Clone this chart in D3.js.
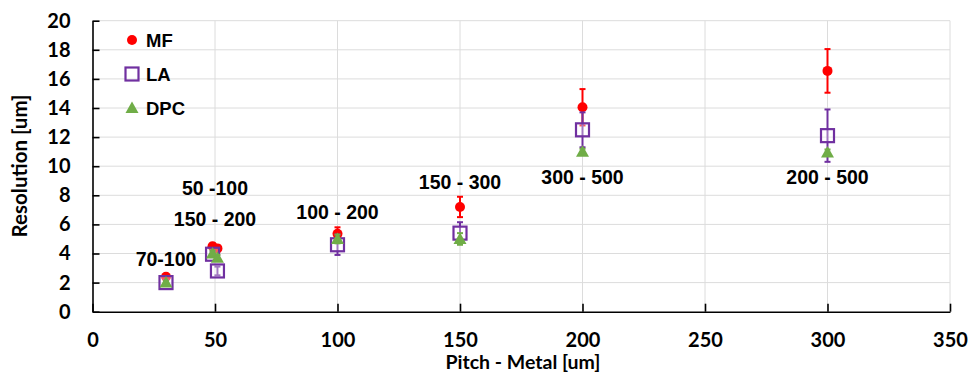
<!DOCTYPE html>
<html>
<head>
<meta charset="utf-8">
<script src="https://cdn.jsdelivr.net/npm/d3@7"></script>
<style>
  body { margin: 0; background: #fff; }
  svg { display: block; }
</style>
</head>
<body>
<div id="chart"></div>
<script>
// data
var pitch = [30, 49, 51, 100, 150, 200, 300]
var mfVals = [2.4, 4.5, 4.35, 5.35, 7.2, 14.05, 16.55]
var mfErr = [0.2, 0.2, 0.2, 0.45, 0.7, 1.25, 1.5]
var laVals = [2.0, 3.95, 2.8, 4.6, 5.4, 12.5, 12.1]
var laErr = [0.15, 0.2, 0.3, 0.7, 0.75, 1.2, 1.8]
var dpcVals = [2.0, 4.0, 3.7, 5.0, 5.0, 11.0, 10.95]
var dpcErr = [0.1, 0.2, 0.2, 0.3, 0.4, 0.2, 0.2]
var metalLabels = ["70-100", "50 -100", "150 - 200", "100 - 200", "150 - 300", "300 - 500", "200 - 500"]
var xTicks = [0, 50, 100, 150, 200, 250, 300, 350]
var yTicks = [0, 2, 4, 6, 8, 10, 12, 14, 16, 18, 20]

// where the range labels sit (data units)
var labelX = [30, 50, 50, 100, 150, 200, 300]
var labelY = [3.15, 8.05, 5.9, 6.4, 8.45, 8.75, 8.75]

var width = 969
height = 376

var svg = d3.select("#chart")
    .append("svg")
    .attr("width", width)
    .attr("height", height)

var x = d3.scaleLinear().domain([0, 350]).range([92.5, 950])
var y = d3.scaleLinear().domain([0, 20]).range([311.7, 20.7])

var tickFont = "Lato, 'Open Sans', sans-serif"
var labFont = "'Liberation Sans', Arial, sans-serif"

// grid
svg.append("g").selectAll("line")
    .data(yTicks.slice(1))
    .enter().append("line")
    .attr("x1", x(0)).attr("x2", x(350))
    .attr("y1", function(d){ return y(d) }).attr("y2", function(d){ return y(d) })
    .attr("stroke", "#dcdcdc").attr("stroke-width", 1)

svg.append("g").selectAll("line")
    .data(xTicks.slice(1))
    .enter().append("line")
    .attr("x1", function(d){ return x(d) }).attr("x2", function(d){ return x(d) })
    .attr("y1", y(0)).attr("y2", y(20))
    .attr("stroke", "#dcdcdc").attr("stroke-width", 1)

// axes, ticks point inward
var xAxis = svg.append("g")
    .attr("transform", "translate(0," + y(0) + ")")
    .call(d3.axisBottom(x).tickValues(xTicks).tickSizeInner(-8).tickSizeOuter(0))
var yAxis = svg.append("g")
    .attr("transform", "translate(" + x(0) + ",0)")
    .call(d3.axisLeft(y).tickValues(yTicks).tickSizeInner(-7).tickSizeOuter(0))

;[xAxis, yAxis].forEach(function(ax){
    ax.select(".domain").attr("stroke", "#000").attr("stroke-width", 1.6)
    ax.selectAll(".tick line").attr("stroke", "#000").attr("stroke-width", 1.6)
    ax.selectAll("text")
        .attr("fill", "#000")
        .style("font-family", tickFont)
        .style("font-weight", "bold")
        .style("font-size", "20px")
})
xAxis.selectAll(".tick text").attr("dy", null).attr("y", 35.5)
yAxis.selectAll(".tick text").attr("x", -22)

// axis titles
svg.append("text")
    .attr("x", 523).attr("y", 368.5)
    .attr("text-anchor", "middle")
    .style("font-family", tickFont).style("font-weight", "bold").style("font-size", "19.5px")
    .text("Pitch - Metal [um]")

svg.append("text")
    .attr("transform", "translate(27,166) rotate(-90)")
    .attr("text-anchor", "middle")
    .style("font-family", tickFont).style("font-weight", "bold").style("font-size", "20.5px")
    .text("Resolution [um]")

var series = [
    {name: "MF", vals: mfVals, err: mfErr, color: "#ff0000", shape: "circle"},
    {name: "LA", vals: laVals, err: laErr, color: "#7030a0", shape: "square"},
    {name: "DPC", vals: dpcVals, err: dpcErr, color: "#70ad47", shape: "triangle"}
]

function drawMarker(g, shape, color){
    if (shape == "circle") {
        g.append("circle").attr("r", 5).attr("fill", color)
    } else if (shape == "square") {
        g.append("rect").attr("x", -6.5).attr("y", -6.5).attr("width", 13).attr("height", 13)
            .attr("fill", "#fff").attr("fill-opacity", 0.35)
            .attr("stroke", color).attr("stroke-width", 2.2)
    } else {
        g.append("path").attr("d", "M0,-6.5L6.5,5L-6.5,5Z").attr("fill", color)
    }
}

series.forEach(function(s){
    var pts = pitch.map(function(p, i){ return {x: p, v: s.vals[i], e: s.err[i]} })
    var eg = svg.append("g")
    pts.forEach(function(d){
        var cx = x(d.x)
        eg.append("line")
            .attr("x1", cx).attr("x2", cx)
            .attr("y1", y(d.v - d.e)).attr("y2", y(d.v + d.e))
            .attr("stroke", s.color).attr("stroke-width", 2)
        ;[d.v - d.e, d.v + d.e].forEach(function(c){
            eg.append("line")
                .attr("x1", cx - 3).attr("x2", cx + 3)
                .attr("y1", y(c)).attr("y2", y(c))
                .attr("stroke", s.color).attr("stroke-width", 2)
        })
    })
    svg.append("g").selectAll("g")
        .data(pts)
        .enter().append("g")
        .attr("transform", function(d){ return "translate(" + x(d.x) + "," + y(d.v) + ")" })
        .each(function(){ drawMarker(d3.select(this), s.shape, s.color) })
})

// range labels
svg.append("g").selectAll("text")
    .data(metalLabels)
    .enter().append("text")
    .attr("x", function(d, i){ return x(labelX[i]) })
    .attr("y", function(d, i){ return y(labelY[i]) })
    .attr("text-anchor", "middle")
    .style("font-family", labFont).style("font-weight", "bold").style("font-size", "19.5px")
    .text(function(d){ return d })

// legend
var legend = svg.append("g")
series.forEach(function(s, i){
    var g = legend.append("g").attr("transform", "translate(132," + (40 + i * 34) + ")")
    drawMarker(g, s.shape, s.color)
    g.append("text")
        .attr("x", 14).attr("y", 7)
        .style("font-family", labFont).style("font-weight", "bold").style("font-size", "18.5px")
        .text(s.name)
})
</script>
</body>
</html>
